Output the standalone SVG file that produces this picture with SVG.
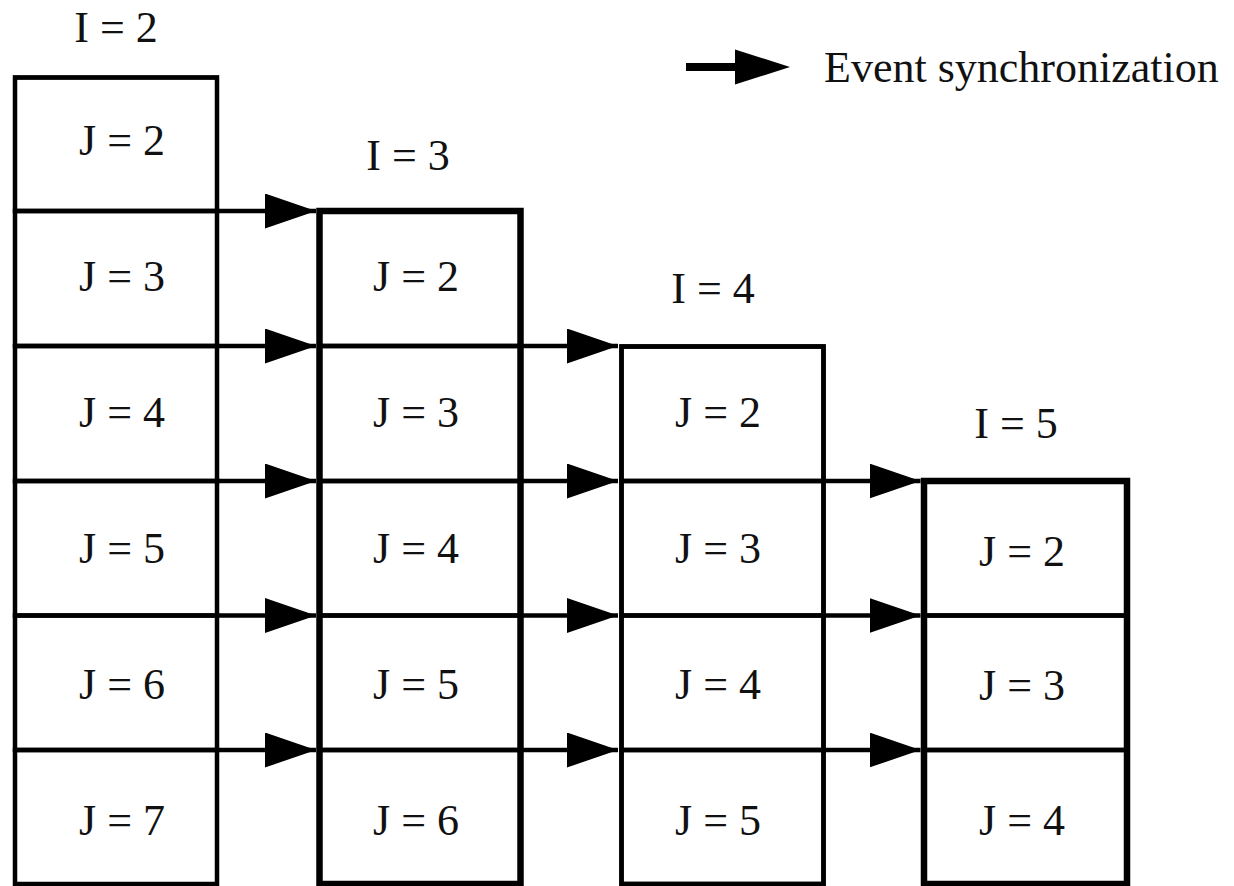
<svg xmlns="http://www.w3.org/2000/svg" width="1234" height="886" viewBox="0 0 1234 886">
  <style>
    .cell { fill: none; stroke: #000; stroke-width: 4.5; }
    .frame { fill: none; stroke: #000; }
    .lbl { font-family: "Liberation Serif", "Times New Roman", serif; font-size: 44px; fill: #111; text-anchor: middle; }
    .legend-text { font-family: "Liberation Serif", "Times New Roman", serif; font-size: 44px; fill: #111; }
    .sync { stroke: #000; stroke-width: 4.5; fill: none; marker-end: url(#head); }
  </style>
  <defs>
    <marker id="head" markerUnits="userSpaceOnUse" markerWidth="52" markerHeight="36" refX="51" refY="17.5" orient="auto">
      <path d="M0,0 L51,17.5 L0,35 Z" fill="#000"/>
    </marker>
  </defs>
  <rect width="1234" height="886" fill="#fff"/>

  <!-- legend -->
  <g id="legend">
    <line x1="686" y1="67" x2="742" y2="67" stroke="#000" stroke-width="8"/>
    <path d="M735,49.5 L790,67 L735,84.5 Z" fill="#000"/>
    <text class="legend-text" x="824" y="82">Event synchronization</text>
  </g>

  <!-- event synchronization arrows between iterations -->
  <g id="connectors">
    <line class="sync" x1="217" y1="211" x2="316" y2="211"/>
    <line class="sync" x1="217" y1="346" x2="316" y2="346"/>
    <line class="sync" x1="217" y1="481" x2="316" y2="481"/>
    <line class="sync" x1="217" y1="615.5" x2="316" y2="615.5"/>
    <line class="sync" x1="217" y1="750" x2="316" y2="750"/>

    <line class="sync" x1="520.5" y1="346" x2="618" y2="346"/>
    <line class="sync" x1="520.5" y1="481" x2="618" y2="481"/>
    <line class="sync" x1="520.5" y1="615.5" x2="618" y2="615.5"/>
    <line class="sync" x1="520.5" y1="750" x2="618" y2="750"/>

    <line class="sync" x1="823.5" y1="481" x2="920.5" y2="481"/>
    <line class="sync" x1="823.5" y1="615.5" x2="920.5" y2="615.5"/>
    <line class="sync" x1="823.5" y1="750" x2="920.5" y2="750"/>
  </g>

  <!-- iteration I = 2 -->
  <g id="iter-i2">
    <text class="lbl" x="116" y="42">I = 2</text>
    <g id="i2-j2"><rect class="cell" x="15" y="77.5" width="202" height="133.5"/><text class="lbl" x="122" y="155">J = 2</text></g>
    <g id="i2-j3"><rect class="cell" x="15" y="211" width="202" height="135"/><text class="lbl" x="122" y="291">J = 3</text></g>
    <g id="i2-j4"><rect class="cell" x="15" y="346" width="202" height="135"/><text class="lbl" x="122" y="427">J = 4</text></g>
    <g id="i2-j5"><rect class="cell" x="15" y="481" width="202" height="134.5"/><text class="lbl" x="122" y="563">J = 5</text></g>
    <g id="i2-j6"><rect class="cell" x="15" y="615.5" width="202" height="134.5"/><text class="lbl" x="122" y="699">J = 6</text></g>
    <g id="i2-j7"><rect class="cell" x="15" y="750" width="202" height="134"/><text class="lbl" x="122" y="835">J = 7</text></g>
    <rect class="frame" x="15" y="77.5" width="202" height="806.5" stroke-width="4"/>
  </g>

  <!-- iteration I = 3 -->
  <g id="iter-i3">
    <text class="lbl" x="408" y="170">I = 3</text>
    <g id="i3-j2"><rect class="cell" x="319.5" y="211" width="201" height="135"/><text class="lbl" x="416" y="291">J = 2</text></g>
    <g id="i3-j3"><rect class="cell" x="319.5" y="346" width="201" height="135"/><text class="lbl" x="416" y="427">J = 3</text></g>
    <g id="i3-j4"><rect class="cell" x="319.5" y="481" width="201" height="134.5"/><text class="lbl" x="416" y="563">J = 4</text></g>
    <g id="i3-j5"><rect class="cell" x="319.5" y="615.5" width="201" height="134.5"/><text class="lbl" x="416" y="699">J = 5</text></g>
    <g id="i3-j6"><rect class="cell" x="319.5" y="750" width="201" height="134"/><text class="lbl" x="416" y="835">J = 6</text></g>
    <rect class="frame" x="319.5" y="211" width="201" height="673" stroke-width="6.5"/>
  </g>

  <!-- iteration I = 4 -->
  <g id="iter-i4">
    <text class="lbl" x="713" y="303">I = 4</text>
    <g id="i4-j2"><rect class="cell" x="621.5" y="346.5" width="202" height="134.5"/><text class="lbl" x="718" y="427">J = 2</text></g>
    <g id="i4-j3"><rect class="cell" x="621.5" y="481" width="202" height="134.5"/><text class="lbl" x="718" y="563">J = 3</text></g>
    <g id="i4-j4"><rect class="cell" x="621.5" y="615.5" width="202" height="134.5"/><text class="lbl" x="718" y="699">J = 4</text></g>
    <g id="i4-j5"><rect class="cell" x="621.5" y="750" width="202" height="134"/><text class="lbl" x="718" y="835">J = 5</text></g>
    <rect class="frame" x="621.5" y="346.5" width="202" height="537.5" stroke-width="4.5"/>
  </g>

  <!-- iteration I = 5 -->
  <g id="iter-i5">
    <text class="lbl" x="1016" y="438">I = 5</text>
    <g id="i5-j2"><rect class="cell" x="924" y="481" width="203" height="134.5"/><text class="lbl" x="1022" y="566">J = 2</text></g>
    <g id="i5-j3"><rect class="cell" x="924" y="615.5" width="203" height="134.5"/><text class="lbl" x="1022" y="700">J = 3</text></g>
    <g id="i5-j4"><rect class="cell" x="924" y="750" width="203" height="134"/><text class="lbl" x="1022" y="835">J = 4</text></g>
    <rect class="frame" x="924" y="481" width="203" height="403" stroke-width="6.5"/>
  </g>
</svg>
